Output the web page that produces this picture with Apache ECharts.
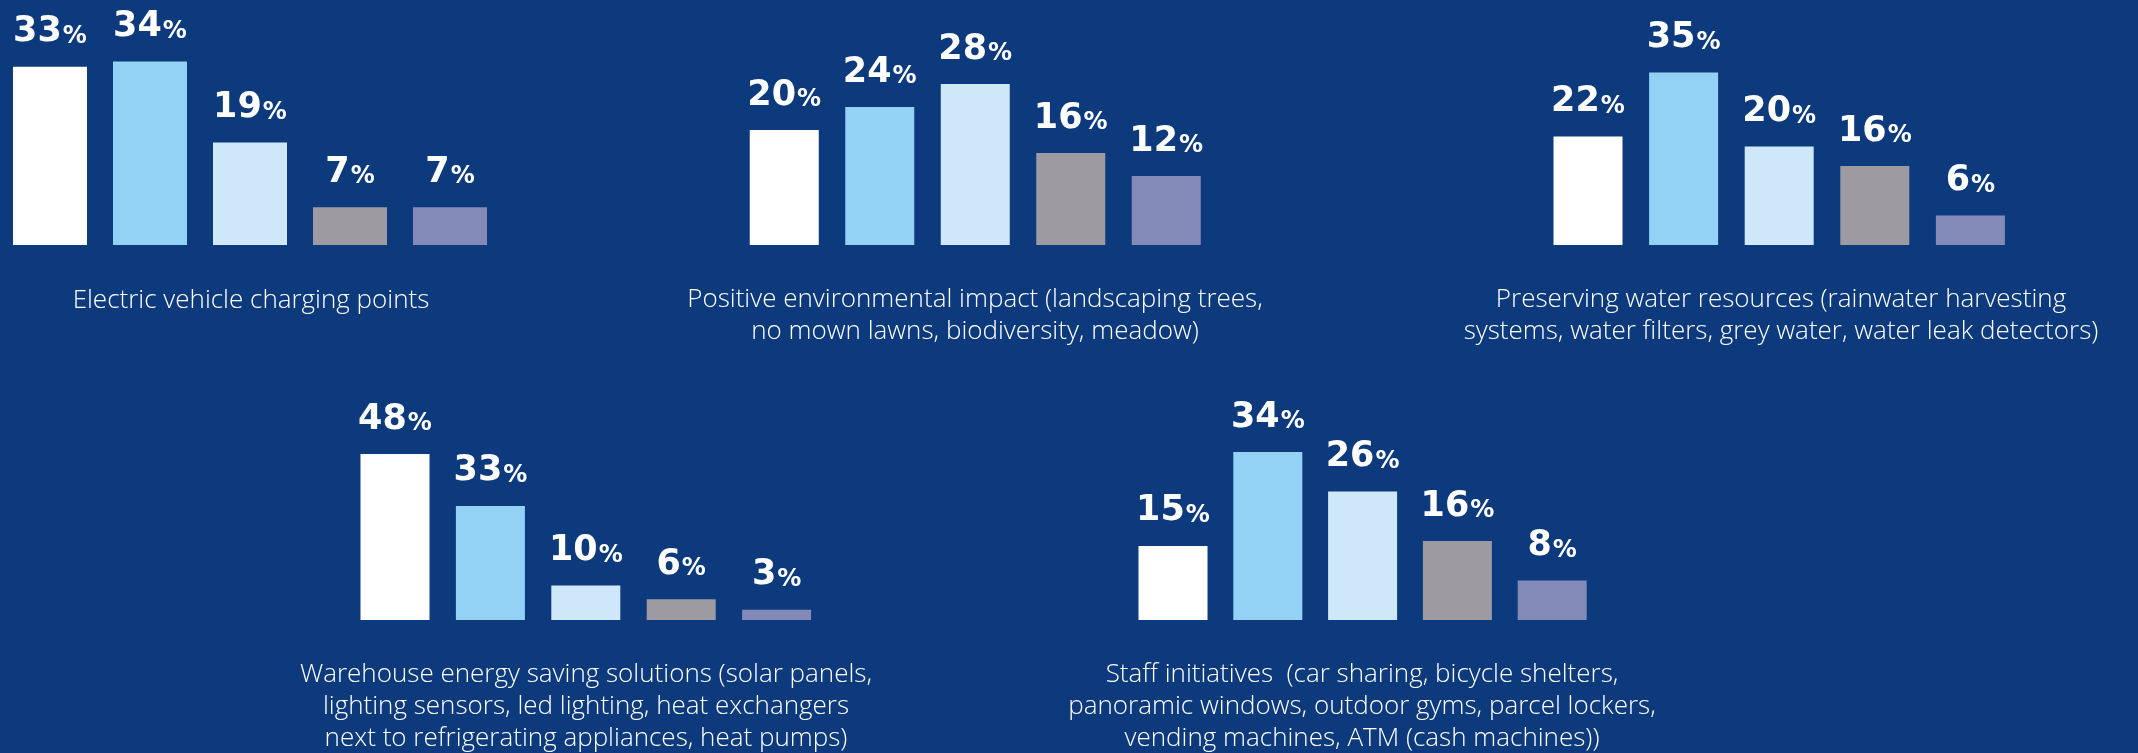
<!DOCTYPE html>
<html>
<head>
<meta charset="utf-8">
<script src="https://cdn.jsdelivr.net/npm/echarts@6/dist/echarts.min.js"></script>
<style>
html,body{margin:0;padding:0;background:#0d3a7c;}
#chart{width:2138px;height:753px;}
</style>
</head>
<body>
<div id="chart"></div>
<script>
const categories = ["A", "B", "C", "D", "E"];
const titles = [
  "Electric vehicle charging points",
  "Positive environmental impact (landscaping trees,\nno mown lawns, biodiversity, meadow)",
  "Preserving water resources (rainwater harvesting\nsystems, water filters, grey water, water leak detectors)",
  "Warehouse energy saving solutions (solar panels,\nlighting sensors, led lighting, heat exchangers\nnext to refrigerating appliances, heat pumps)",
  "Staff initiatives  (car sharing, bicycle shelters,\npanoramic windows, outdoor gyms, parcel lockers,\nvending machines, ATM (cash machines))"
];
const evCharging = [33, 34, 19, 7, 7];
const environmental = [20, 24, 28, 16, 12];
const water = [22, 35, 20, 16, 6];
const energy = [48, 33, 10, 6, 3];
const staff = [15, 34, 26, 16, 8];
const panelData = [evCharging, environmental, water, energy, staff];
const colors = ["#ffffff", "#93d2f4", "#cee8fa", "#9d9ba1", "#838ab8"];

// layout per panel
const layout = [
  {left: 0, width: 500, top: 29, height: 216, max: 40, barWidth: 74, cx: 251, ty: 285},
  {left: 736.5, width: 477.5, top: 15, height: 230, max: 40, barWidth: 69, cx: 975, ty: 284},
  {left: 1540.2, width: 478, top: 47.8, height: 197.2, max: 40, barWidth: 69, cx: 1781, ty: 284},
  {left: 347.3, width: 477, top: 412.5, height: 207.5, max: 60, barWidth: 69, cx: 586, ty: 659},
  {left: 1125.6, width: 474, top: 422.4, height: 197.6, max: 40, barWidth: 69, cx: 1362, ty: 659}
];

const chart = echarts.init(document.getElementById('chart'));
const option = {
  backgroundColor: '#0d3a7c',
  animation: false,
  title: layout.map((l, i) => ({
    text: titles[i],
    left: l.cx,
    top: l.ty,
    padding: 0,
    textAlign: 'center',
    textStyle: {
      color: '#ffffff',
      fontFamily: 'Open Sans',
      fontWeight: 300,
      fontSize: 26,
      lineHeight: 32
    }
  })),
  grid: layout.map(l => ({left: l.left, top: l.top, width: l.width, height: l.height, containLabel: false})),
  xAxis: layout.map((l, i) => ({
    type: 'category', gridIndex: i, data: categories, show: false
  })),
  yAxis: layout.map((l, i) => ({
    type: 'value', gridIndex: i, min: 0, max: l.max, show: false
  })),
  series: layout.map((l, i) => ({
    type: 'bar',
    xAxisIndex: i,
    yAxisIndex: i,
    barWidth: l.barWidth,
    data: panelData[i].map((v, j) => ({value: v, itemStyle: {color: colors[j]}})),
    label: {
      show: true,
      position: 'top',
      distance: 17,
      formatter: p => '{n|' + p.value + '}{p|%}',
      rich: {
        n: {color: '#ffffff', fontFamily: 'DejaVu Sans', fontWeight: 'bold', fontSize: 35, lineHeight: 35, verticalAlign: 'bottom'},
        p: {color: '#ffffff', fontFamily: 'DejaVu Sans', fontWeight: 'bold', fontSize: 24, lineHeight: 24, verticalAlign: 'bottom', padding: [0, 0, 1, 1]}
      }
    }
  }))
};
chart.setOption(option);
</script>
</body>
</html>
